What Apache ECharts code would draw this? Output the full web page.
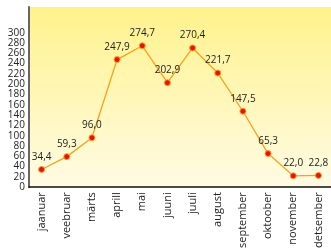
<!DOCTYPE html>
<html>
<head>
<meta charset="utf-8">
<script src="https://cdn.jsdelivr.net/npm/echarts@6/dist/echarts.min.js"></script>
<style>
  html, body { margin: 0; padding: 0; background: #fff; }
  #chart { width: 331px; height: 251px; }
</style>
</head>
<body>
<div id="chart"></div>
<script>
let months = ["jaanuar", "veebruar", "märts", "aprill", "mai", "juuni",
  "juuli", "august", "september", "oktoober", "november", "detsember"];
let rain = [34.4, 59.3, 96.0, 247.9, 274.7, 202.9, 270.4, 221.7, 147.5, 65.3, 22.0, 22.8];

let chart = echarts.init(document.getElementById("chart"));
let fontName = "Open Sans";
let option = {
  animation: false,
  grid: {
    left: 29,
    right: 0,
    top: 7,
    bottom: 54,
    show: true,
    borderWidth: 0,
    backgroundColor: new echarts.graphic.LinearGradient(0, 0, 0, 1, [
      { offset: 0, color: "#fff28c" },
      { offset: 1, color: "#fffbe4" },
    ]),
  },
  xAxis: {
    type: "category",
    data: months,
    boundaryGap: true,
    axisTick: { show: false },
    axisLine: { lineStyle: { color: "#111", width: 1.5 } },
    axisLabel: {
      rotate: 90,
      interval: 0,
      fontFamily: fontName,
      fontSize: 11,
      color: "#222",
      margin: 5,
    },
  },
  yAxis: {
    type: "value",
    min: 0,
    max: 350,
    interval: 20,
    splitLine: { show: false },
    axisTick: { show: false },
    axisLine: { show: true, lineStyle: { color: "#666", width: 2 } },
    axisLabel: {
      fontFamily: fontName,
      fontSize: 10,
      color: "#222",
      margin: 4,
      formatter: function (v) {
        return v > 300 ? "" : v;
      },
    },
  },
  series: [
    {
      type: "line",
      data: rain,
      symbol: "circle",
      symbolSize: 6,
      lineStyle: { color: "#f5a31a", width: 1.3 },
      itemStyle: { color: "#e8120c", borderColor: "#f7a21b", borderWidth: 1 },
      label: {
        show: true,
        position: "top",
        distance: 4,
        fontFamily: fontName,
        fontSize: 10,
        color: "#222",
        formatter: function (p) {
          return p.value.toFixed(1).replace(".", ",");
        },
      },
    },
  ],
};
chart.setOption(option);
</script>
</body>
</html>
